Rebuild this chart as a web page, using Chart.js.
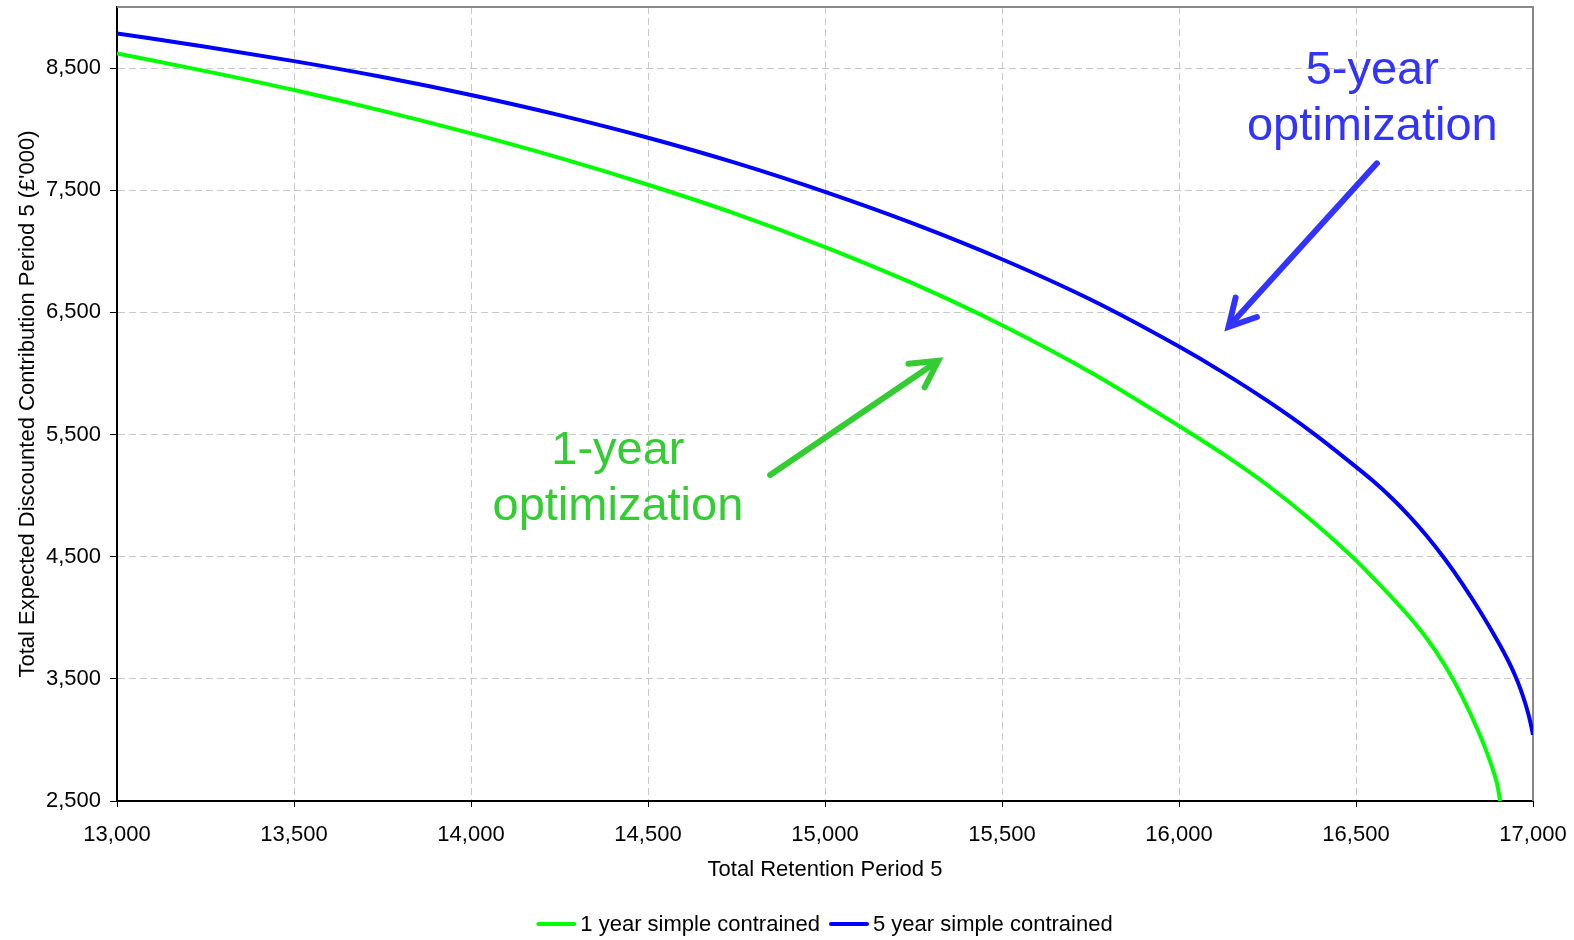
<!DOCTYPE html>
<html>
<head>
<meta charset="utf-8">
<script src="https://cdn.jsdelivr.net/npm/chart.js@4/dist/chart.umd.min.js"></script>
<style>
  html, body { margin: 0; padding: 0; background: #fff; }
</style>
</head>
<body>
<canvas id="chart" width="1574" height="940"></canvas>
<script>
// values
const retention1y = [13000, 13250, 13500, 13750, 14000, 14250, 14500, 14750, 15000, 15250, 15500, 15750, 16000, 16125, 16250, 16375, 16500,
    16550, 16600, 16650, 16700, 16750, 16800, 16850, 16875, 16890, 16900, 16907];
const contribution1y = [8620, 8475, 8320, 8150, 7965, 7765, 7545, 7305, 7035, 6735, 6395, 6010, 5570, 5339, 5085, 4795, 4470,
    4322, 4170, 4010, 3830, 3615, 3355, 3040, 2855, 2726, 2621, 2500];

const retention5y = [13000, 13250, 13500, 13750, 14000, 14250, 14500, 14750, 15000, 15250, 15500, 15750, 16000, 16125, 16250, 16375, 16500,
    16550, 16600, 16650, 16700, 16750, 16800, 16850, 16900, 16930, 16950, 16965, 16980, 16990, 17000];
const contribution5y = [8784, 8674, 8557, 8427, 8280, 8115, 7930, 7722, 7487, 7227, 6935, 6605, 6220, 6007, 5775, 5520, 5235,
    5115, 4983, 4835, 4670, 4485, 4280, 4055, 3810, 3648, 3524, 3414, 3282, 3177, 3042];

const seriesNames = ["1 year simple contrained", "5 year simple contrained"];
const seriesColors = ["#00ff00", "#0000ff"];

const xTicks = [13000, 13500, 14000, 14500, 15000, 15500, 16000, 16500, 17000];
const yTicks = [2500, 3500, 4500, 5500, 6500, 7500, 8500];

const FONT = "Arial, 'Liberation Sans', sans-serif";
Chart.defaults.font.family = FONT;
Chart.defaults.font.size = 22;
Chart.defaults.color = "#000";

function toPoints(xs, ys) {
    return xs.map((x, i) => ({x: x, y: ys[i]}));
}

// text labels and arrows, placed in data units
const notes = [
    {lines: ["5-year", "optimization"], color: "#3333ff", x: 16546, y: [8369, 7910],
        from: [16559, 7720], to: [16140, 6382]},
    {lines: ["1-year", "optimization"], color: "#33cc33", x: 14415, y: [5258, 4800],
        from: [14845, 5168], to: [15320, 6104]},
];

function drawArrow(ctx, x1, y1, x2, y2, color) {
    const ang = Math.atan2(y2 - y1, x2 - x1);
    const head = 30, spread = 0.5;
    ctx.save();
    ctx.strokeStyle = color;
    ctx.lineWidth = 6;
    ctx.lineCap = "round";
    ctx.lineJoin = "miter";
    ctx.beginPath();
    ctx.moveTo(x1, y1);
    ctx.lineTo(x2 - 3 * Math.cos(ang), y2 - 3 * Math.sin(ang));
    ctx.stroke();
    ctx.beginPath();
    ctx.moveTo(x2 - head * Math.cos(ang - spread), y2 - head * Math.sin(ang - spread));
    ctx.lineTo(x2, y2);
    ctx.lineTo(x2 - head * Math.cos(ang + spread), y2 - head * Math.sin(ang + spread));
    ctx.stroke();
    ctx.restore();
}

const extras = {
    id: "extras",
    beforeDatasetsDraw(chart) {
        const {ctx, chartArea: a} = chart;
        // grey frame on top and right
        ctx.save();
        ctx.strokeStyle = "#888";
        ctx.lineWidth = 2;
        ctx.beginPath();
        ctx.moveTo(a.left, a.top);
        ctx.lineTo(a.right, a.top);
        ctx.lineTo(a.right, a.bottom);
        ctx.stroke();
        ctx.restore();
    },
    afterDraw(chart) {
        const {ctx, chartArea: a} = chart;
        const xs = chart.scales.x, ys = chart.scales.y;

        notes.forEach(n => {
            ctx.save();
            ctx.fillStyle = n.color;
            ctx.font = "47px " + FONT;
            ctx.textAlign = "center";
            ctx.textBaseline = "alphabetic";
            n.lines.forEach((t, i) => {
                ctx.fillText(t, xs.getPixelForValue(n.x), ys.getPixelForValue(n.y[i]));
            });
            ctx.restore();
            drawArrow(ctx,
                xs.getPixelForValue(n.from[0]), ys.getPixelForValue(n.from[1]),
                xs.getPixelForValue(n.to[0]), ys.getPixelForValue(n.to[1]), n.color);
        });

        // legend
        ctx.save();
        ctx.font = "22px " + FONT;
        ctx.textBaseline = "middle";
        ctx.textAlign = "left";
        const lineW = 38, gapText = 5, gapItem = 10;
        const items = chart.data.datasets.map(d => ({label: d.label, color: d.borderColor, w: ctx.measureText(d.label).width}));
        let total = 0;
        items.forEach((it, i) => { total += lineW + gapText + it.w + (i ? gapItem : 0); });
        let x = (a.left + a.right) / 2 - total / 2;
        const y = 924;
        items.forEach((it, i) => {
            if (i) x += gapItem;
            ctx.strokeStyle = it.color;
            ctx.lineWidth = 4;
            ctx.lineCap = "round";
            ctx.beginPath();
            ctx.moveTo(x + 1, y);
            ctx.lineTo(x + lineW - 1, y);
            ctx.stroke();
            x += lineW + gapText;
            ctx.fillStyle = "#000";
            ctx.fillText(it.label, x, y + 1);
            x += it.w;
        });
        ctx.restore();
    }
};

new Chart(document.getElementById("chart"), {
    type: "line",
    data: {
        datasets: [
            {
                label: seriesNames[0],
                data: toPoints(retention1y, contribution1y),
                borderColor: seriesColors[0],
                backgroundColor: seriesColors[0],
                borderWidth: 4,
                pointRadius: 0,
                fill: false,
                cubicInterpolationMode: "monotone",
            },
            {
                label: seriesNames[1],
                data: toPoints(retention5y, contribution5y),
                borderColor: seriesColors[1],
                backgroundColor: seriesColors[1],
                borderWidth: 4,
                pointRadius: 0,
                fill: false,
                cubicInterpolationMode: "monotone",
            },
        ],
    },
    options: {
        responsive: false,
        animation: false,
        layout: {padding: {left: 0, right: 41, top: 7, bottom: 0}},
        plugins: {
            legend: {display: false},
            tooltip: {enabled: false},
        },
        scales: {
            x: {
                type: "linear",
                min: 13000,
                max: 17000,
                afterBuildTicks: s => { s.ticks = xTicks.map(v => ({value: v})); },
                afterFit: s => { s.height = 139; s.paddingLeft = 0; s.paddingRight = 0; },
                ticks: {
                    padding: 15,
                    maxRotation: 0,
                    callback: v => v.toLocaleString("en-US"),
                },
                grid: {color: "#c8c8c8", lineWidth: 1, tickColor: "#000", tickLength: 6, tickWidth: 1, tickBorderDash: []},
                border: {color: "#000", width: 2, dash: [7, 4]},
                title: {display: true, text: "Total Retention Period 5", font: {size: 22}, padding: {top: 0, bottom: 57}},
            },
            y: {
                type: "linear",
                min: 2500,
                max: 9000,
                afterBuildTicks: s => { s.ticks = yTicks.map(v => ({value: v})); },
                afterFit: s => { s.width = 117; s.paddingTop = 0; s.paddingBottom = 0; },
                ticks: {
                    padding: 9,
                    callback: v => v.toLocaleString("en-US"),
                },
                grid: {color: "#c8c8c8", lineWidth: 1, tickColor: "#000", tickLength: 7, tickWidth: 1, tickBorderDash: []},
                border: {color: "#000", width: 2, dash: [7, 4]},
                title: {display: true, text: "Total Expected Discounted Contribution Period 5 (£'000)", font: {size: 22}, padding: {top: 15, bottom: 0}},
            },
        },
    },
    plugins: [extras],
});
</script>
</body>
</html>
